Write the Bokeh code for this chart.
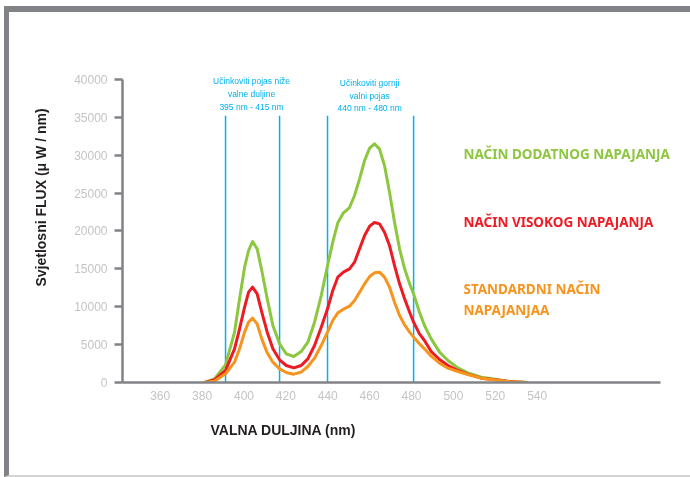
from bokeh.plotting import figure
from bokeh.models import Range1d, FixedTicker, Label
from bokeh.core.properties import value
from bokeh.embed import file_html
from bokeh.resources import INLINE

# ---- data ----
wavelength = [381.2, 385.9, 391.2, 395.5, 397.9, 400.3, 402.2, 404.1, 406.3, 408.5, 411.1, 413.8,
              417.0, 420.2, 423.8, 427.3, 430.5, 433.7, 436.9, 439.9, 442.4, 444.8, 447.5, 450.4,
              452.8, 455.2, 457.6, 460.0, 462.3, 464.7, 467.1, 469.5, 471.9, 474.3, 476.7, 479.1,
              481.0, 483.8, 486.2, 489.4, 493.4, 497.4, 502.1, 506.9, 513.3, 520, 527, 535]
dodatno = [0, 484, 2332, 6644, 11044, 15224, 17424, 18612, 17644, 14784, 11044, 7524,
           5104, 3784, 3432, 4092, 5324, 7964, 11484, 15444, 18524, 21076, 22396, 23100,
           24684, 26884, 29304, 30932, 31504, 30844, 28644, 25124, 21164, 17644, 15004, 13024,
           11704, 9284, 7524, 5764, 4004, 2904, 1936, 1276, 704, 420, 130, 0]
visoko = [0, 352, 1584, 4444, 7084, 9944, 11924, 12584, 11704, 9284, 6644, 4444,
          2992, 2244, 1936, 2244, 3124, 4884, 7304, 9724, 12144, 13904, 14564, 15004,
          15884, 17644, 19404, 20636, 21120, 20944, 19844, 18084, 15444, 13024, 11044, 9284,
          7964, 6424, 5544, 4092, 3036, 2244, 1584, 1100, 572, 350, 110, 0]
standardno = [0, 176, 1144, 2684, 4444, 6644, 7964, 8492, 7744, 5764, 3916, 2684,
              1804, 1320, 1100, 1364, 2112, 3212, 4884, 6644, 8184, 9196, 9680, 10076,
              10824, 11924, 13024, 13992, 14476, 14564, 13904, 12584, 10604, 8844, 7612, 6644,
              5984, 5104, 4444, 3476, 2552, 1892, 1452, 1056, 572, 330, 100, 0]
x_ticks = [360, 380, 400, 420, 440, 460, 480, 500, 520, 540]
y_ticks = [0, 5000, 10000, 15000, 20000, 25000, 30000, 35000, 40000]
band_edges = [391.2, 417.0, 439.9, 481.0]
band_top = 35200
series_names = ["NAČIN DODATNOG NAPAJANJA", "NAČIN VISOKOG NAPAJANJA", "STANDARDNI NAČIN\nNAPAJANJAA"]
band_notes_low = ["Učinkoviti pojas niže", "valne duljine", "395 nm - 415 nm"]
band_notes_high = ["Učinkoviti gornji", "valni pojas", "440 nm - 480 nm"]

GREEN = "#8dc63f"
RED = "#ed1c24"
ORANGE = "#f7941d"
BLUE = "#00b0f0"
AXIS = "#818386"
TICK = "#c4c4c4"
DARK = "#231f20"

p = figure(width=686, height=471, output_backend="svg", toolbar_location=None,
           title="VALNA DULJINA (nm)", title_location="below",
           x_range=Range1d(342, 615.6), y_range=Range1d(0, 48844),
           min_border_left=113, min_border_right=0, min_border_top=0, min_border_bottom=101)
p.styles = {"position": "fixed", "left": "4px", "top": "6px",
            "border-top": "6px solid #818386", "border-left": "5px solid #818386",
            "border-bottom": "2px solid #d4d4d4"}
p.outline_line_color = None
p.grid.visible = False
p.background_fill_color = "white"
p.border_fill_color = "white"

p.title.align = "left"
p.title.offset = 88
p.title.text_font = "Liberation Sans"
p.title.text_font_style = "bold"
p.title.text_font_size = "14px"
p.title.text_color = DARK
p.title.standoff = 35

# axes
p.xaxis.ticker = FixedTicker(ticks=x_ticks)
p.xaxis.bounds = (342, 599)
p.xaxis.major_tick_out = 0
p.xaxis.major_tick_in = 0
p.xaxis.minor_tick_out = 0
p.xaxis.minor_tick_in = 0
p.xaxis.axis_line_color = AXIS
p.xaxis.axis_line_width = 2.5
p.xaxis.major_label_standoff = 8
p.xaxis.major_label_text_color = TICK
p.xaxis.major_label_text_font = "Liberation Sans"
p.xaxis.major_label_text_font_size = "12px"

p.yaxis.ticker = FixedTicker(ticks=y_ticks)
p.yaxis.bounds = (0, 40000)
p.yaxis.major_tick_out = 8
p.yaxis.major_tick_in = 0
p.yaxis.minor_tick_out = 0
p.yaxis.minor_tick_in = 0
p.yaxis.major_tick_line_color = AXIS
p.yaxis.major_tick_line_width = 2.5
p.yaxis.axis_line_color = AXIS
p.yaxis.axis_line_width = 2.5
p.yaxis.major_label_standoff = 7
p.yaxis.major_label_text_color = TICK
p.yaxis.major_label_text_font = "Liberation Sans"
p.yaxis.major_label_text_font_size = "12px"
p.yaxis.axis_label = "Svjetlosni FLUX (μ W / nm)"
p.yaxis.axis_label_text_font = "Liberation Sans"
p.yaxis.axis_label_text_font_style = "bold"
p.yaxis.axis_label_text_font_size = "14px"
p.yaxis.axis_label_text_color = DARK
p.yaxis.axis_label_standoff = 22

# effective band lines
p.segment(x0=band_edges, y0=[0] * 4, x1=band_edges, y1=[band_top] * 4,
          line_color=BLUE, line_width=1.5)

# curves
for ys, col in [(dodatno, GREEN), (visoko, RED), (standardno, ORANGE)]:
    p.line(wavelength, ys, line_color=col, line_width=3, line_join="round", line_cap="round")

# band notes
p.text(x=[403.6] * 3, y=[39860, 38150, 36430], text=band_notes_low,
       text_align="center", text_baseline="middle", text_color=BLUE,
       text_font=value("Liberation Sans"), text_font_size="8.5px")
p.text(x=[460.0] * 3, y=[39600, 37880, 36300], text=band_notes_high,
       text_align="center", text_baseline="middle", text_color=BLUE,
       text_font=value("Liberation Sans"), text_font_size="8.5px")

# series labels
label_y = [30100, 21250, 12280]
for name, col, yy in zip(series_names, [GREEN, RED, ORANGE], label_y):
    for i, ln in enumerate(name.split("\n")):
        p.add_layout(Label(x=504.8, y=yy - i * 2770, text=ln, text_color=col,
                           text_font="Noto Sans", text_font_style="bold",
                           text_font_size="13.5px", text_baseline="middle", text_align="left"))

open("out.html", "w").write(file_html(p, INLINE))
